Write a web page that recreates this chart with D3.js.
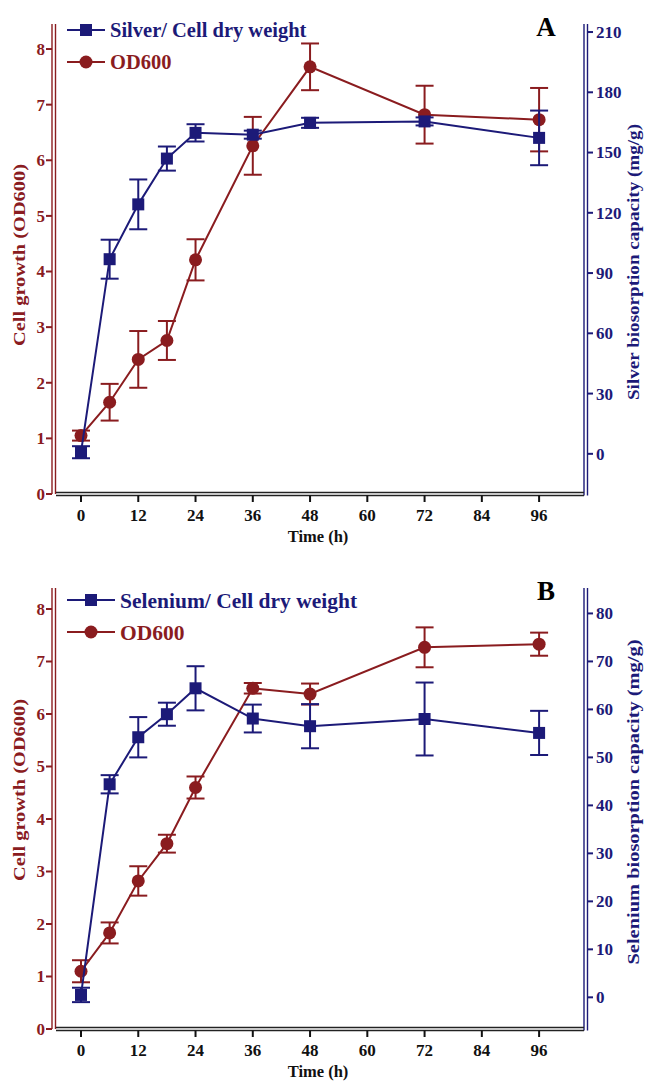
<!DOCTYPE html>
<html>
<head>
<meta charset="utf-8">
<script src="https://cdn.jsdelivr.net/npm/d3@7"></script>
<style>
  body { margin: 0; background: #fff; }
  svg { display: block; font-family: "Liberation Serif", "Times New Roman", serif; font-weight: bold; }
</style>
</head>
<body>
<div id="chart"></div>
<script>
// sampling times (h)
const hours = [0, 6, 12, 18, 24, 36, 48, 72, 96];
const xTicks = [0, 12, 24, 36, 48, 60, 72, 84, 96];

// panel A: silver
const odA = [1.05, 1.65, 2.42, 2.76, 4.21, 6.26, 7.68, 6.82, 6.73];
const odAErr = [0.09, 0.33, 0.51, 0.35, 0.37, 0.52, 0.42, 0.52, 0.57];
const silver = [0.8, 96.9, 124.2, 147, 159.8, 158.9, 164.8, 165.5, 157.3];
const silverErr = [3, 9.7, 12.4, 6, 4.3, 2, 2.5, 2, 13.6];
const silverTicks = [0, 30, 60, 90, 120, 150, 180, 210];

// panel B: selenium
const odB = [1.10, 1.83, 2.82, 3.53, 4.60, 6.49, 6.38, 7.27, 7.33];
const odBErr = [0.21, 0.2, 0.28, 0.17, 0.21, 0.1, 0.2, 0.38, 0.22];
const selenium = [0.5, 44.4, 54.2, 59.0, 64.4, 58.1, 56.5, 58.0, 55.1];
const seleniumErr = [1.5, 1.9, 4.2, 2.4, 4.6, 2.9, 4.6, 7.6, 4.6];
const seleniumTicks = [0, 10, 20, 30, 40, 50, 60, 70, 80];

const odTicks = [0, 1, 2, 3, 4, 5, 6, 7, 8];

const red = "#8a1c1f";
const navy = "#1c1a78";

const svg = d3.select("#chart").append("svg")
    .attr("width", 645)
    .attr("height", 1087);

const x = d3.scaleLinear().domain([-5.45, 105.2]).range([55, 583]);

function panel(cfg) {
    const g = svg.append("g");
    const yL = d3.scaleLinear().domain(cfg.leftDomain).range([cfg.bottom, cfg.top]);
    const yR = d3.scaleLinear().domain(cfg.rightDomain).range([cfg.bottom, cfg.top]);

    // double-line axes
    function dbl(x1, y1, x2, y2, dx, dy, col) {
        [0, 1].forEach(i => {
            g.append("line")
                .attr("x1", x1 + dx * i).attr("y1", y1 + dy * i)
                .attr("x2", x2 + dx * i).attr("y2", y2 + dy * i)
                .attr("stroke", col).attr("stroke-width", 1.4);
        });
    }
    dbl(52, cfg.top, 52, cfg.bottom, 3.5, 0, red);
    dbl(584, cfg.top, 584, cfg.bottom + 1.5, 3.5, 0, navy);
    dbl(56, cfg.bottom - 1.5, 584, cfg.bottom - 1.5, 0, 3, "#222");

    // left ticks
    odTicks.forEach(v => {
        g.append("line").attr("x1", 46).attr("x2", 52)
            .attr("y1", yL(v)).attr("y2", yL(v))
            .attr("stroke", red).attr("stroke-width", 2);
        g.append("text").attr("x", 45).attr("y", yL(v))
            .attr("dy", "0.35em").attr("text-anchor", "end")
            .attr("fill", red).attr("font-size", 17).text(v);
    });
    // right ticks
    cfg.rightTicks.forEach(v => {
        g.append("line").attr("x1", 587.5).attr("x2", 593)
            .attr("y1", yR(v)).attr("y2", yR(v))
            .attr("stroke", navy).attr("stroke-width", 2);
        g.append("text").attr("x", 596).attr("y", yR(v))
            .attr("dy", "0.35em").attr("fill", navy)
            .attr("font-size", 17).text(v);
    });
    // x ticks
    xTicks.forEach(v => {
        g.append("line").attr("x1", x(v)).attr("x2", x(v))
            .attr("y1", cfg.bottom + 1.5).attr("y2", cfg.bottom + 8)
            .attr("stroke", "#111").attr("stroke-width", 2);
        g.append("text").attr("x", x(v)).attr("y", cfg.bottom + 21)
            .attr("dy", "0.35em").attr("text-anchor", "middle")
            .attr("fill", "#111").attr("font-size", 17).text(v);
    });

    // axis titles
    g.append("text").attr("x", 318).attr("y", cfg.bottom + 42)
        .attr("dy", "0.35em").attr("text-anchor", "middle")
        .attr("font-size", 16.5).attr("fill", "#111").text("Time (h)");
    g.append("text")
        .attr("transform", `translate(19,${cfg.leftTitleY}) rotate(-90)`)
        .attr("dy", "0.35em").attr("text-anchor", "middle")
        .attr("font-size", 16).attr("fill", red)
        .attr("textLength", 182).attr("lengthAdjust", "spacingAndGlyphs")
        .text("Cell growth (OD600)");
    g.append("text")
        .attr("transform", `translate(633,${cfg.rightTitleY}) rotate(-90)`)
        .attr("dy", "0.35em").attr("text-anchor", "middle")
        .attr("font-size", 16).attr("fill", navy)
        .attr("textLength", cfg.rightTitleLen).attr("lengthAdjust", "spacingAndGlyphs")
        .text(cfg.rightTitle);

    // panel letter
    g.append("text").attr("x", 546).attr("y", cfg.top + 3)
        .attr("dy", "0.35em").attr("text-anchor", "middle")
        .attr("font-size", 27).attr("fill", "#000").text(cfg.letter);

    function series(vals, errs, y, col, shape) {
        const pts = hours.map((h, i) => ({ h, v: vals[i], e: errs[i] }));
        g.append("path").datum(pts)
            .attr("fill", "none").attr("stroke", col).attr("stroke-width", 2)
            .attr("d", d3.line().x(d => x(d.h)).y(d => y(d.v)));
        const eb = g.append("g").attr("stroke", col).attr("stroke-width", 2);
        pts.forEach(d => {
            eb.append("line").attr("x1", x(d.h)).attr("x2", x(d.h))
                .attr("y1", y(d.v - d.e)).attr("y2", y(d.v + d.e));
            [d.v - d.e, d.v + d.e].forEach(c => {
                eb.append("line").attr("x1", x(d.h) - 9).attr("x2", x(d.h) + 9)
                    .attr("y1", y(c)).attr("y2", y(c));
            });
        });
        pts.forEach(d => {
            if (shape === "circle") {
                g.append("circle").attr("cx", x(d.h)).attr("cy", y(d.v))
                    .attr("r", 6.5).attr("fill", col);
            } else {
                g.append("rect").attr("x", x(d.h) - 6).attr("y", y(d.v) - 6)
                    .attr("width", 12).attr("height", 12).attr("fill", col);
            }
        });
    }
    series(cfg.od, cfg.odErr, yL, red, "circle");
    series(cfg.metal, cfg.metalErr, yR, navy, "square");

    // legend
    const lg = g.append("g");
    const ly1 = cfg.legendY, ly2 = cfg.legendY + 32;
    lg.append("line").attr("x1", 67).attr("x2", cfg.legendEnd)
        .attr("y1", ly1).attr("y2", ly1).attr("stroke", navy).attr("stroke-width", 2);
    lg.append("rect").attr("x", (67 + cfg.legendEnd) / 2 - 6).attr("y", ly1 - 6)
        .attr("width", 12).attr("height", 12).attr("fill", navy);
    lg.append("text").attr("x", cfg.legendEnd + 5).attr("y", ly1).attr("dy", "0.35em")
        .attr("font-size", cfg.legendSize).attr("fill", navy).text(cfg.legendLabel);
    lg.append("line").attr("x1", 67).attr("x2", cfg.legendEnd)
        .attr("y1", ly2).attr("y2", ly2).attr("stroke", red).attr("stroke-width", 2);
    lg.append("circle").attr("cx", (67 + cfg.legendEnd) / 2).attr("cy", ly2)
        .attr("r", 6.5).attr("fill", red);
    lg.append("text").attr("x", cfg.legendEnd + 5).attr("y", ly2).attr("dy", "0.35em")
        .attr("font-size", cfg.legendSize).attr("fill", red).text("OD600");
}

panel({
    top: 24, bottom: 494,
    leftDomain: [0, 8.45], rightDomain: [-20, 214],
    rightTicks: silverTicks,
    od: odA, odErr: odAErr, metal: silver, metalErr: silverErr,
    rightTitle: "Silver biosorption capacity (mg/g)", rightTitleLen: 276,
    leftTitleY: 255, rightTitleY: 262,
    letter: "A", legendY: 30, legendEnd: 105, legendSize: 20.5,
    legendLabel: "Silver/ Cell dry weight"
});

panel({
    top: 588, bottom: 1029,
    leftDomain: [0, 8.4], rightDomain: [-6.6, 85.3],
    rightTicks: seleniumTicks,
    od: odB, odErr: odBErr, metal: selenium, metalErr: seleniumErr,
    rightTitle: "Selenium biosorption capacity (mg/g)", rightTitleLen: 325,
    leftTitleY: 790, rightTitleY: 802,
    letter: "B", legendY: 600, legendEnd: 115, legendSize: 21.5,
    legendLabel: "Selenium/ Cell dry weight"
});
</script>
</body>
</html>
